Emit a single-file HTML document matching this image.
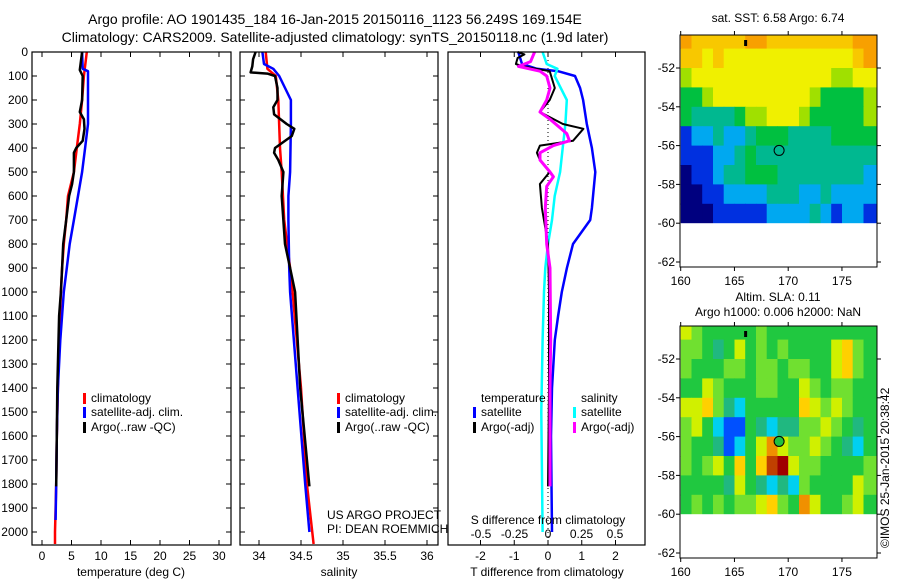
<!DOCTYPE html>
<html><head><meta charset="utf-8"><style>
html,body{margin:0;padding:0;background:#fff;width:900px;height:580px;overflow:hidden}
svg{display:block;font-family:"Liberation Sans",sans-serif}
text{fill:#000;font-size:12px}
</style></head><body>
<svg id="fig" width="900" height="580" viewBox="0 0 900 580">
<text x="335" y="24" text-anchor="middle" style="font-size:14px">Argo profile: AO 1901435_184 16-Jan-2015 20150116_1123 56.249S 169.154E</text>
<text x="335" y="42" text-anchor="middle" style="font-size:14px">Climatology: CARS2009. Satellite-adjusted climatology: synTS_20150118.nc (1.9d later)</text>
<g id="g1"></g>
<g id="g2"></g>
<g id="g3"></g>
<g id="m1"></g>
<g id="m2"></g>
<text transform="translate(889,548) rotate(-90)" style="font-size:12px">©IMOS 25-Jan-2015 20:38:42</text>
</svg>
<script>
// ---- profile data ----
const tClimDepth=[0,100,200,300,400,500,600,700,800,900,1000,1200,1400,1600,1800,2000,2050];
const tClim=[7.6,7.1,6.8,6.4,5.9,5.4,4.4,4.1,3.7,3.4,3.2,2.9,2.7,2.5,2.4,2.2,2.2];
const tSatDepth=[0,70,80,300,400,500,600,700,800,900,1000,1200,1400,1600,1800,1950];
const tSat=[6.8,6.9,7.8,7.8,7.3,6.8,6.1,5.4,4.7,4.2,3.7,3.1,2.7,2.5,2.4,2.3];
const tArgoDepth=[0,75,100,200,250,280,320,370,400,420,500,550,600,700,800,900,1000,1100,1200,1400,1600,1810];
const tArgo=[6.8,6.4,6.9,6.8,6.4,7.1,7.2,6.9,5.8,5.4,5.4,5.1,4.6,4.1,3.6,3.4,3.2,2.9,2.8,2.6,2.5,2.4];

const sClimDepth=[0,70,100,200,400,500,700,900,1000,1400,1800,2050];
const sClim=[34.08,34.1,34.2,34.23,34.25,34.27,34.3,34.37,34.4,34.5,34.57,34.65];
const sSatDepth=[0,50,70,100,200,300,500,600,700,900,1000,1400,1800,2000];
const sSat=[34.04,34.06,34.17,34.24,34.38,34.38,34.37,34.35,34.35,34.36,34.37,34.46,34.55,34.6];
const sArgoDepth=[0,30,60,85,90,100,150,200,230,260,300,320,350,400,420,450,500,600,800,900,1000,1400,1810];
const sArgo=[33.96,33.93,33.92,33.9,34.1,34.19,34.22,34.22,34.17,34.18,34.33,34.42,34.39,34.19,34.18,34.23,34.29,34.27,34.31,34.37,34.43,34.49,34.6];

const dTArgoDepth=[0,10,25,50,60,80,150,200,250,300,320,370,390,420,450,500,550,650,750,800,1000,1400,1810];
const dTArgo=[-0.9,-0.7,-0.9,-0.95,-0.75,0.05,0.2,0.05,-0.24,0.44,1.05,0.74,-0.24,-0.33,-0.24,0.05,-0.24,-0.18,-0.06,0,0.03,0.03,0];
const dSArgoDepth=[0,40,60,80,100,150,200,250,280,340,370,390,420,450,500,520,560,650,800,900,1200,1400,1810];
const dSArgo=[-0.1,-0.13,-0.22,-0.06,-0.01,0.015,-0.01,-0.06,0.015,0.14,0.16,0.04,-0.06,-0.06,0.015,0.04,-0.01,-0.02,-0.01,0.015,0.02,0.015,0.015];
const dTSatDepth=[0,50,70,80,100,150,200,300,400,500,650,700,800,900,1000,1100,1200,1400,1600,2000];
const dTSat=[-0.88,-0.77,-0.33,0.3,0.8,0.95,1.04,1.15,1.3,1.4,1.3,1.25,0.74,0.56,0.41,0.3,0.2,0.12,0.09,0.12];
const dSSatDepth=[0,50,70,100,200,300,400,500,600,700,800,900,1000,1200,1500,2000];
const dSSat=[-0.04,-0.01,0.07,0.05,0.14,0.13,0.11,0.09,0.05,0.03,0,-0.02,-0.03,-0.04,-0.05,-0.04];

const tTicks=[0,5,10,15,20,25,30];
const sTicks=[34,34.5,35,35.5,36];
const dTTicks=[-2,-1,0,1,2];
const dSTicks=[-0.5,-0.25,0,0.25,0.5];
const dSTickLabels=["-0.5","-0.25","0","0.25","0.5"];
const depthTicks=[0,100,200,300,400,500,600,700,800,900,1000,1100,1200,1300,1400,1500,1600,1700,1800,1900,2000];

// ---- map data ----
const sstGrid=[
[8,7,7,7,7,7,8,8,7,7,7,7,7,7,7,7,8,8,8],
[7,7,6,7,6,6,6,6,6,6,6,6,6,6,6,6,7,8,8],
[5,6,6,6,6,6,6,6,6,6,6,6,6,6,5,5,6,6,6],
[4,4,5,6,6,6,6,6,6,6,6,6,5,4,4,4,4,5,5],
[4,3,3,3,3,4,5,5,6,6,6,5,4,4,4,4,4,5,5],
[1,2,2,3,2,2,3,4,4,4,3,3,3,3,4,4,4,4,4],
[1,1,1,2,2,3,4,3,3,3,3,3,3,3,3,3,3,3,3],
[0,1,1,2,3,3,4,4,4,3,3,3,3,3,3,3,3,2,2],
[0,0,1,1,2,2,2,2,3,3,3,2,2,3,2,2,2,2,2],
[0,0,0,1,1,1,1,1,2,2,2,2,3,2,1,2,2,1,1]];
const slaGrid=[
[6,5,4,4,4,4,4,5,4,4,4,4,4,4,4,4,4,4,4],
[5,5,4,3,4,6,4,5,4,5,4,4,4,4,6,7,5,4,4],
[5,4,4,4,5,5,4,5,5,4,5,5,4,4,6,7,5,4,4],
[4,4,6,5,4,4,4,5,5,4,4,6,5,4,5,5,4,4,4],
[6,6,7,5,3,2,4,4,4,4,4,7,6,5,6,5,4,4,4],
[5,6,4,2,1,1,4,3,2,3,3,5,5,6,5,4,3,4,4],
[5,4,4,3,1,2,4,6,8,6,5,5,6,5,4,3,2,4,4],
[5,4,5,6,4,7,4,7,9,10,6,5,5,4,4,4,4,5,5],
[4,4,4,4,3,6,4,3,2,3,2,5,4,4,4,4,6,5,5],
[4,5,4,5,4,5,5,6,7,5,4,8,6,4,4,5,6,4,4]];
const gridLat0=-50, gridLon0=160;
const lonTicks=[160,165,170,175];
const latTicks=[-52,-54,-56,-58,-60,-62];
const argoLon=169.154, argoLat=-56.249;

const NS="http://www.w3.org/2000/svg";
function mk(parent,tag,attrs,txt){const e=document.createElementNS(NS,tag);for(const k in attrs)e.setAttribute(k,attrs[k]);if(txt!==undefined)e.textContent=txt;parent.appendChild(e);return e;}

const yD=d=>52+d*0.24;
const PT=52,PB=545;

function frame(g,x0,x1,name){
  const r=mk(g,'rect',{x:x0,y:PT,width:x1-x0,height:PB-PT,fill:'none',stroke:'#000','stroke-width':1.2});
  
  
}
function line(g,xs,ds,xf,color,w,name,dash){
  const pts=xs.map((v,i)=>xf(v).toFixed(1)+','+yD(ds[i]).toFixed(1)).join(' ');
  const p=mk(g,'polyline',{points:pts,fill:'none',stroke:color,'stroke-width':w,'stroke-linejoin':'round'});
  if(dash)p.setAttribute('stroke-dasharray',dash);
  
  
}
function xticks(g,ticks,xf,labels,x0,x1){
  ticks.forEach((t,i)=>{
    const x=xf(t);
    mk(g,'line',{x1:x,x2:x,y1:PB,y2:PB-5,stroke:'#000'});
    mk(g,'line',{x1:x,x2:x,y1:PT,y2:PT+5,stroke:'#000'});
    const tx=mk(g,'text',{x:x,y:560,'text-anchor':'middle'},labels?labels[i]:String(t));
    
    
  });
}
function yticks(g,x0,x1,labels){
  depthTicks.forEach(d=>{
    const y=yD(d);
    mk(g,'line',{x1:x0,x2:x0+5,y1:y,y2:y,stroke:'#000'});
    mk(g,'line',{x1:x1,x2:x1-5,y1:y,y2:y,stroke:'#000'});
    if(labels){const t=mk(g,'text',{x:28,y:y+4,'text-anchor':'end'},String(d));
      
      }
  });
}
function legendItem(g,x,y,color,label){
  mk(g,'rect',{x:x,y:y-9,width:3,height:11,fill:color});
  const t=mk(g,'text',{x:x+8,y:y},label);
  
  
}

// Panel 1
const g1=document.getElementById('g1');
const xT=v=>42+v*5.9;
line(g1,tClim,tClimDepth,xT,'#f00',2.5,'temp-climatology-line');
line(g1,tSat,tSatDepth,xT,'#00f',2.5,'temp-satellite-line');
line(g1,tArgo,tArgoDepth,xT,'#000',2.5,'temp-argo-line');
frame(g1,32,231,'temperature-axes');
xticks(g1,tTicks,xT);
yticks(g1,32,231,true);
let t=mk(g1,'text',{x:131,y:576,'text-anchor':'middle'},'temperature (deg C)');

legendItem(g1,83,402,'#f00','climatology');
legendItem(g1,83,416,'#00f','satellite-adj. clim.');
legendItem(g1,83,431,'#000','Argo(..raw -QC)');

// Panel 2
const g2=document.getElementById('g2');
const xS=v=>259+(v-34)*84;
line(g2,sClim,sClimDepth,xS,'#f00',2.5,'sal-climatology-line');
line(g2,sSat,sSatDepth,xS,'#00f',2.5,'sal-satellite-line');
line(g2,sArgo,sArgoDepth,xS,'#000',2.5,'sal-argo-line');
frame(g2,240,438,'salinity-axes');
xticks(g2,sTicks,xS);
yticks(g2,240,438,false);
t=mk(g2,'text',{x:339,y:576,'text-anchor':'middle'},'salinity');

legendItem(g2,337,402,'#f00','climatology');
legendItem(g2,337,416,'#00f','satellite-adj. clim.');
legendItem(g2,337,431,'#000','Argo(..raw -QC)');
t=mk(g2,'text',{x:327,y:519},'US ARGO PROJECT');

t=mk(g2,'text',{x:327,y:533},'PI: DEAN ROEMMICH');


// Panel 3
const g3=document.getElementById('g3');
const xDT=v=>548+v*33.75;
const xDS=v=>548+v*134;
const z=mk(g3,'line',{x1:548,x2:548,y1:PT,y2:PB,stroke:'#000','stroke-dasharray':'1,3'});

line(g3,dTSat,dTSatDepth,xDT,'#00f',2.5,'dT-satellite-line');
line(g3,dSSat,dSSatDepth,xDS,'#0ff',2.5,'dS-satellite-line');
line(g3,dTArgo,dTArgoDepth,xDT,'#000',2,'dT-argo-line');
line(g3,dSArgo,dSArgoDepth,xDS,'#f0f',3,'dS-argo-line');
frame(g3,448,645,'difference-axes');
xticks(g3,dTTicks,xDT);
dSTicks.forEach((v,i)=>{const tx=mk(g3,'text',{x:xDS(v),y:538,'text-anchor':'middle'},dSTickLabels[i]);
  });
t=mk(g3,'text',{x:548,y:524,'text-anchor':'middle'},'S difference from climatology');

t=mk(g3,'text',{x:547,y:576,'text-anchor':'middle'},'T difference from climatology');

t=mk(g3,'text',{x:481,y:402},'temperature');

t=mk(g3,'text',{x:581,y:402},'salinity');

legendItem(g3,473,416,'#00f','satellite');
legendItem(g3,473,431,'#000','Argo(-adj)');
legendItem(g3,573,416,'#0ff','satellite');
legendItem(g3,573,431,'#f0f','Argo(-adj)');

// Maps
const sstCols=['#00007f','#0030e0','#00a8f0','#00b890','#00c040','#a0e000','#f0f000','#f8c800','#f8a000'];
const slaCols=['#00008f','#0050ff','#00d0f0','#20b880','#20c840','#70e030','#d0f000','#ffd000','#f09000','#c04000','#a00000'];
function drawMap(id,grid,cols,top,title1,title2,circleFill){
  const g=document.getElementById(id);
  const L=680,R=877,B=top+232;
  const yL=la=>(top+33)+(-52-la)*19.4;
  const xL=lo=>680.7+(lo-160)*10.75;
  const cid='clip'+id;
  const cp=mk(g,'clipPath',{id:cid});mk(cp,'rect',{x:L,y:top,width:R-L,height:B-top});
  const cg=mk(g,'g',{'clip-path':'url(#'+cid+')'});
  grid.forEach((row,r)=>row.forEach((v,c)=>{
    const x=xL(gridLon0+c),y=yL(gridLat0-r);
    mk(cg,'rect',{x:x.toFixed(1),y:y.toFixed(1),width:11.3,height:19.9,fill:cols[v]});
  }));
  mk(cg,'rect',{x:L,y:yL(-60),width:R-L,height:B-yL(-60),fill:'#fff'});
  mk(g,'rect',{x:L,y:top,width:R-L,height:B-top,fill:'none',stroke:'#000','stroke-width':1});
  lonTicks.forEach(lo=>{const x=xL(lo);
    mk(g,'line',{x1:x,x2:x,y1:top,y2:top-4,stroke:'#000'});
    mk(g,'line',{x1:x,x2:x,y1:B,y2:B+4,stroke:'#000'});
    const tx=mk(g,'text',{x:x,y:B+18,'text-anchor':'middle'},String(lo));
    });
  latTicks.forEach(la=>{const y=yL(la);
    mk(g,'line',{x1:L,x2:L-4,y1:y,y2:y,stroke:'#000'});
    mk(g,'line',{x1:R,x2:R+4,y1:y,y2:y,stroke:'#000'});
    const tx=mk(g,'text',{x:L-5,y:y+4,'text-anchor':'end'},String(la));
    });
  const c=mk(g,'circle',{cx:xL(argoLon),cy:yL(argoLat),r:5,fill:circleFill,stroke:'#000','stroke-width':1});
  
  mk(g,'rect',{x:xL(165.9),y:top+5,width:3,height:6,fill:'#000'});
  let tt=mk(g,'text',{x:778,y:top-(title2?10:13),'text-anchor':'middle'},title1);
  
  if(title2){tt=mk(g,'text',{x:778,y:top-25,'text-anchor':'middle'},title2);
    }
}
drawMap('m1',sstGrid,sstCols,35,'sat. SST: 6.58  Argo: 6.74',null,'none');
drawMap('m2',slaGrid,slaCols,326,'Argo h1000: 0.006 h2000: NaN','Altim. SLA: 0.11','#20c040');
</script>
</body></html>
